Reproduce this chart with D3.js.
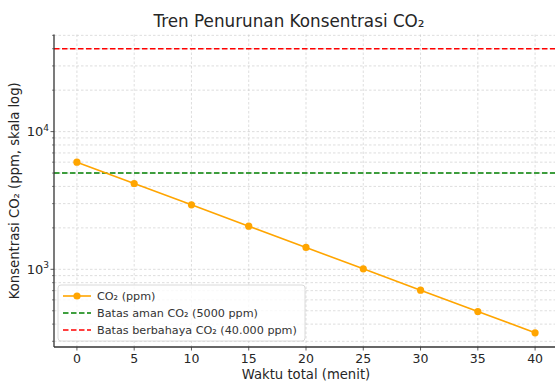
<!DOCTYPE html>
<html>
<head>
<meta charset="utf-8">
<script src="https://cdn.jsdelivr.net/npm/d3@7"></script>
<style>
  body { margin: 0; background: #fff; }
  svg { font-family: "DejaVu Sans", sans-serif; }
</style>
</head>
<body>
<svg width="555" height="381"></svg>
<script>
var minutes = [0, 5, 10, 15, 20, 25, 30, 35, 40],
    co2 = [6000, 4200, 2940, 2058, 1441, 1008, 706, 494, 346],
    safeLimit = 5000,
    dangerLimit = 40000,
    xTicks = [0, 5, 10, 15, 20, 25, 30, 35, 40],
    yMajor = [1000, 10000],
    yMinor = [300, 400, 500, 600, 700, 800, 900, 2000, 3000, 4000, 5000, 6000, 7000, 8000, 9000, 20000, 30000, 40000, 50000];

var svg = d3.select("svg"),
    margin = {left: 54, right: -3, top: 34.5, bottom: 34};
var width = 555 - margin.left - margin.right,
    height = 381 - margin.top - margin.bottom;

var x = d3.scaleLinear().domain([-2, 42]).range([margin.left, margin.left + width]);

var lo = Math.log10(d3.min(co2)), hi = Math.log10(dangerLimit), pad = (hi - lo) * 0.05;
var y = d3.scaleLog()
    .domain([Math.pow(10, lo - pad), Math.pow(10, hi + pad)])
    .range([margin.top + height, margin.top]);

var g = svg.append("g");

// grid
g.append("g").selectAll("line").data(yMinor.concat(yMajor)).enter().append("line")
    .attr("x1", margin.left).attr("x2", margin.left + width)
    .attr("y1", function(d) { return y(d); }).attr("y2", function(d) { return y(d); })
    .attr("stroke", "#c8c8c8").attr("stroke-width", 0.6).attr("stroke-dasharray", "2.5,2");
g.append("g").selectAll("line").data(xTicks).enter().append("line")
    .attr("y1", margin.top).attr("y2", margin.top + height)
    .attr("x1", function(d) { return x(d); }).attr("x2", function(d) { return x(d); })
    .attr("stroke", "#c8c8c8").attr("stroke-width", 0.6).attr("stroke-dasharray", "2.5,2");

// limit lines
g.append("line")
    .attr("x1", margin.left).attr("x2", margin.left + width)
    .attr("y1", y(safeLimit)).attr("y2", y(safeLimit))
    .attr("stroke", "#008000").attr("stroke-width", 1.6).attr("stroke-dasharray", "5.5,2.5");
g.append("line")
    .attr("x1", margin.left).attr("x2", margin.left + width)
    .attr("y1", y(dangerLimit)).attr("y2", y(dangerLimit))
    .attr("stroke", "#ff0000").attr("stroke-width", 1.6).attr("stroke-dasharray", "5.5,2.5");

// series
var line = d3.line().x(function(d, i) { return x(minutes[i]); }).y(function(d) { return y(d); });
g.append("path").datum(co2).attr("d", line)
    .attr("fill", "none").attr("stroke", "#ffa500").attr("stroke-width", 1.6);
g.append("g").selectAll("circle").data(co2).enter().append("circle")
    .attr("cx", function(d, i) { return x(minutes[i]); })
    .attr("cy", function(d) { return y(d); })
    .attr("r", 3.6).attr("fill", "#ffa500");

// axes
var spine = "#333";
g.append("line").attr("x1", margin.left).attr("x2", margin.left)
    .attr("y1", margin.top).attr("y2", margin.top + height)
    .attr("stroke", spine).attr("stroke-width", 1.3);
g.append("line").attr("x1", margin.left).attr("x2", margin.left + width)
    .attr("y1", margin.top + height).attr("y2", margin.top + height)
    .attr("stroke", spine).attr("stroke-width", 1.3);

var xt = g.append("g").selectAll("g").data(xTicks).enter().append("g");
xt.append("line")
    .attr("x1", function(d) { return x(d); }).attr("x2", function(d) { return x(d); })
    .attr("y1", margin.top + height).attr("y2", margin.top + height + 3.5)
    .attr("stroke", spine).attr("stroke-width", 0.8);
xt.append("text")
    .attr("x", function(d) { return x(d); }).attr("y", margin.top + height + 15.5)
    .attr("text-anchor", "middle").attr("font-size", 12.5).attr("fill", "#262626")
    .text(function(d) { return d; });

g.append("g").selectAll("line").data(yMinor).enter().append("line")
    .attr("x1", margin.left - 2).attr("x2", margin.left)
    .attr("y1", function(d) { return y(d); }).attr("y2", function(d) { return y(d); })
    .attr("stroke", spine).attr("stroke-width", 0.6);
var yt = g.append("g").selectAll("g").data(yMajor).enter().append("g");
yt.append("line")
    .attr("x1", margin.left - 3.5).attr("x2", margin.left)
    .attr("y1", function(d) { return y(d); }).attr("y2", function(d) { return y(d); })
    .attr("stroke", spine).attr("stroke-width", 0.8);
var yl = yt.append("text")
    .attr("x", margin.left - 5).attr("y", function(d) { return y(d) + 4.5; })
    .attr("text-anchor", "end").attr("font-size", 13).attr("fill", "#262626");
yl.append("tspan").text("10");
yl.append("tspan").attr("font-size", 9).attr("dy", -5.5)
    .text(function(d) { return Math.round(Math.log10(d)); });

// labels
svg.append("text").attr("x", 289).attr("y", 27).attr("text-anchor", "middle")
    .attr("font-size", 16.8).attr("fill", "#262626").text("Tren Penurunan Konsentrasi CO₂");
svg.append("text").attr("x", 306).attr("y", 378.5).attr("text-anchor", "middle")
    .attr("font-size", 13.2).attr("fill", "#262626").text("Waktu total (menit)");
svg.append("text").attr("transform", "translate(19," + (margin.top + height / 2) + ") rotate(-90)")
    .attr("text-anchor", "middle").attr("font-size", 13.2).attr("fill", "#262626")
    .text("Konsentrasi CO₂ (ppm, skala log)");

// legend
var items = [
  {label: "CO₂ (ppm)", color: "#ffa500", dash: null, marker: true},
  {label: "Batas aman CO₂ (5000 ppm)", color: "#008000", dash: "5.5,2.5"},
  {label: "Batas berbahaya CO₂ (40.000 ppm)", color: "#ff0000", dash: "5.5,2.5"}
];
var lg = svg.append("g").attr("transform", "translate(58,285)");
lg.append("rect").attr("width", 247).attr("height", 56).attr("rx", 3)
    .attr("fill", "#fff").attr("fill-opacity", 0.8).attr("stroke", "#d0d0d0").attr("stroke-width", 0.8);
var li = lg.selectAll("g").data(items).enter().append("g")
    .attr("transform", function(d, i) { return "translate(0," + (11 + i * 17) + ")"; });
li.append("line").attr("x1", 5).attr("x2", 33)
    .attr("stroke", function(d) { return d.color; }).attr("stroke-width", 1.6)
    .attr("stroke-dasharray", function(d) { return d.dash; });
li.filter(function(d) { return d.marker; }).append("circle").attr("cx", 19).attr("r", 3.6)
    .attr("fill", function(d) { return d.color; });
li.append("text").attr("x", 39).attr("y", 4).attr("font-size", 11.2).attr("fill", "#333")
    .text(function(d) { return d.label; });
</script>
</body>
</html>
